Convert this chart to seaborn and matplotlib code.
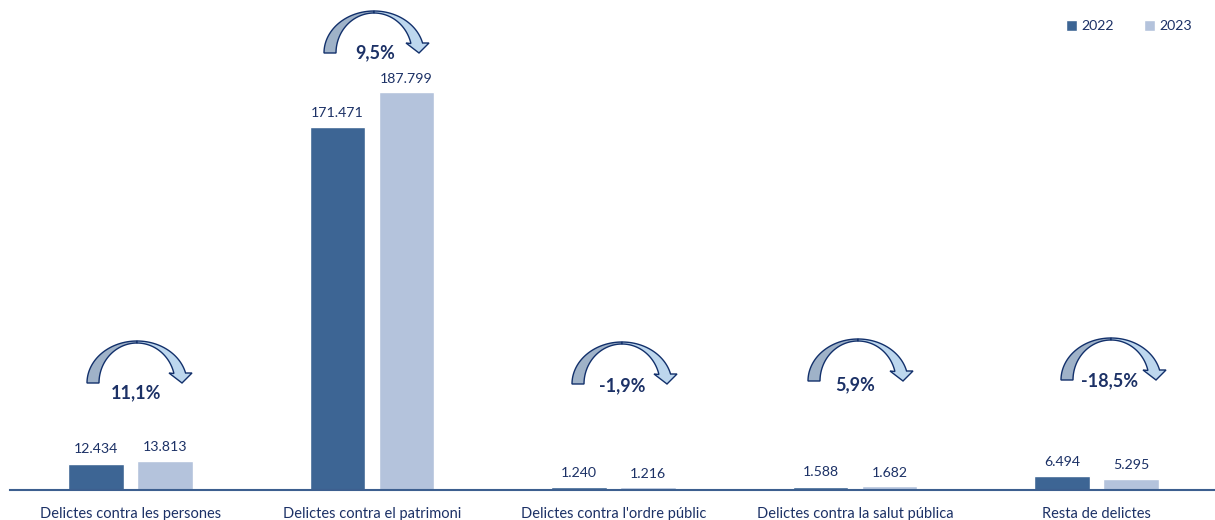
import numpy as np
import pandas as pd
import matplotlib
matplotlib.use("Agg")
import matplotlib.pyplot as plt
from matplotlib.patches import Polygon
from matplotlib.transforms import Affine2D
import seaborn as sns

categories = ["Delictes contra les persones", "Delictes contra el patrimoni",
              "Delictes contra l'ordre públic", "Delictes contra la salut pública",
              "Resta de delictes"]
values_2022 = [12434, 171471, 1240, 1588, 6494]
values_2023 = [13813, 187799, 1216, 1682, 5295]
changes = ["11,1%", "9,5%", "-1,9%", "5,9%", "-18,5%"]

# where the arrows and their % labels sit, in image pixels
arrow_pos = [(87, 383), (324, 53), (572, 384), (808, 381), (1061, 380)]
change_pos = [(136, 393), (375, 53), (622, 386), (855, 385), (1110, 381)]

NAVY = "#1c3166"
W, H = 1215, 520

df = pd.DataFrame({
    "cat": categories * 2,
    "val": values_2022 + values_2023,
    "year": ["2022"] * 5 + ["2023"] * 5,
})

sns.set_style("white")
plt.rcParams["font.family"] = ["Lato", "DejaVu Sans"]

fig = plt.figure(figsize=(W / 100, H / 100), dpi=100)
ax = fig.add_axes([9.75 / W, 1 - 490 / H, 1207.5 / W, 490 / H])
sns.barplot(data=df, x="cat", y="val", hue="year", hue_order=["2022", "2023"],
            palette=["#3d6594", "#b4c3dc"], saturation=1, width=0.571, gap=0.2, ax=ax)
ax.set_xlim(-0.5, 4.5)
ax.set_ylim(0, 231400)
ax.set_xlabel("")
ax.set_ylabel("")
ax.set_yticks([])
ax.tick_params(axis="x", length=0, pad=12, labelsize=10.5, labelcolor=NAVY)
sns.despine(ax=ax, left=True)
ax.spines["bottom"].set_color("#3d5f8f")
ax.spines["bottom"].set_linewidth(1.5)
ax.patch.set_alpha(0)

for cont, vals, pad in zip(ax.containers, [values_2022, values_2023], [6, 5.5]):
    labels = [f"{v:,}".replace(",", ".") for v in vals]
    ax.bar_label(cont, labels=labels, padding=pad, fontsize=10.2, color=NAVY)

handles, labels = ax.get_legend_handles_labels()
ax.legend(handles, labels, ncol=2, frameon=False, fontsize=10.2, labelcolor=NAVY,
          loc="upper right", bbox_to_anchor=(1183 / 1207.5 + 0.01, 0.985),
          handlelength=0.8, handleheight=0.8, handletextpad=0.28, columnspacing=2.15)

# pixel coordinates, origin top left like the image
px = Affine2D().scale(1 / W, -1 / H).translate(0, 1) + fig.transFigure


def curved_arrow(x0, y0):
    end = np.arcsin(10 / 42)
    t_left = np.linspace(np.pi, np.pi / 2, 40)
    t_right = np.linspace(np.pi / 2, end, 40)
    ox = lambda t: x0 + 50 + 50 * np.cos(t)
    oy = lambda t: y0 - 42 * np.sin(t)
    ix = lambda t: x0 + 50 + 38 * np.cos(t)
    iy = lambda t: y0 - 40 * np.sin(t)
    left = np.r_[np.c_[ox(t_left), oy(t_left)], np.c_[ix(t_left[::-1]), iy(t_left[::-1])]]
    head = [(x0 + 105, y0 - 10), (x0 + 95, y0), (x0 + 82, y0 - 10)]
    right = np.r_[np.c_[ox(t_right), oy(t_right)], head, np.c_[ix(t_right[::-1]), iy(t_right[::-1])]]
    for pts, col in [(left, "#9fb2c8"), (right, "#bdd7ee")]:
        fig.add_artist(Polygon(pts, closed=True, facecolor=col, edgecolor="#12306b",
                               linewidth=1, transform=px, joinstyle="miter"))


for (x0, y0), (tx, ty), txt in zip(arrow_pos, change_pos, changes):
    curved_arrow(x0, y0)
    fig.text(tx, ty, txt, transform=px, ha="center", va="center", fontsize=13,
             fontweight="bold", color=NAVY)

fig.savefig("out.png", dpi=100)
